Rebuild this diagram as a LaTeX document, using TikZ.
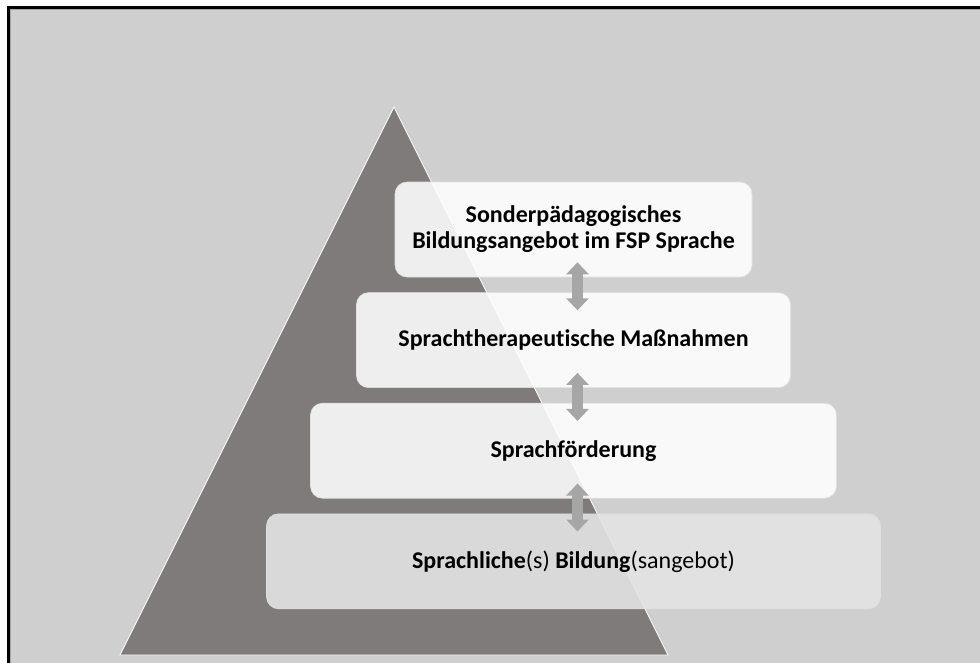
\documentclass[tikz,border=0pt]{standalone}
\usepackage{fontspec}
\setmainfont{Carlito}[Ligatures={NoCommon}]
\usepackage{tikz}
\usetikzlibrary{arrows.meta,positioning}
\definecolor{bggray}{HTML}{D0CFCF}
\definecolor{pyrgray}{HTML}{7F7B7B}
\definecolor{arrgray}{HTML}{A6A6A6}
\definecolor{lowbox}{HTML}{E4E4E4}

\begin{document}
\begin{tikzpicture}[
 x=1pt,y=-1pt,
 node distance=15pt,
 box/.style={rounded corners=12pt,align=center,minimum height=95pt,inner sep=0pt,
  fill=white,fill opacity=0.88,text opacity=1,draw=black!12,line width=0.6pt,
  font=\fontsize{24}{26}\selectfont\bfseries},
 basebox/.style={box,fill=lowbox,fill opacity=0.9,font=\fontsize{24}{26}\selectfont},
 arr/.style={{Triangle[width=22pt,length=12pt]}-{Triangle[width=22pt,length=12pt]},
  line width=11pt,draw=arrgray,shorten <=-15pt,shorten >=-18pt}
]
\useasboundingbox (0,0) rectangle (980,662);
\clip (0,0) rectangle (980,662);
\fill[white] (0,0) rectangle (980,662);
\draw[bggray!80!black,fill=bggray,line width=1pt] (10.5,9.5) rectangle (1000,690);
\draw[black,line width=2.7pt] (8.6,7.3) rectangle (1000,690);
\draw[white,fill=pyrgray,line width=0.8pt] (394,107) -- (668,655) -- (120,655) -- cycle;

\node[box,minimum width=357pt] (top) at (573.5,229.5) {Sonderpädagogisches\\Bildungsangebot im FSP Sprache};
\node[box,minimum width=434pt,below=of top] (ther) {Sprachtherapeutische Maßnahmen};
\node[box,minimum width=526pt,below=of ther] (foerd) {Sprachförderung};
\node[basebox,minimum width=614pt,below=of foerd] (bild) {\textbf{Sprachliche}(s) \textbf{Bildung}(sangebot)};

\draw[arr] ([xshift=4pt]top.south) -- ([xshift=4pt]ther.north);
\draw[arr] ([xshift=4pt]ther.south) -- ([xshift=4pt]foerd.north);
\draw[arr] ([xshift=4pt]foerd.south) -- ([xshift=4pt]bild.north);
\end{tikzpicture}
\end{document}
